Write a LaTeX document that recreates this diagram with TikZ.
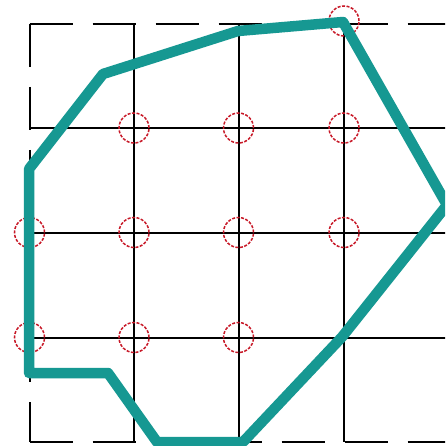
\documentclass[tikz,border=0pt]{standalone}
\definecolor{hullteal}{RGB}{22,152,146}
\definecolor{ringred}{RGB}{200,25,40}
\begin{document}
\begin{tikzpicture}[x=1pt,y=-1pt,
  gridline/.style={black,line width=2pt},
  borderline/.style={gridline,dash pattern=on 43pt off 20pt},
  ring/.style={draw=ringred,line width=1.5pt,dash pattern=on 3pt off 1.5pt},
  hull/.style={draw=hullteal,line width=10.5pt,line join=round}]
\useasboundingbox (0,0) rectangle (445,446);
\fill[white] (0,0) rectangle (445,446);
\clip (0,0) rectangle (445,446);
% grid coordinates
\coordinate (tl) at (29.5,24);
\coordinate (tr) at (448.5,24);
\coordinate (bl) at (29.5,442);
\coordinate (br) at (448.5,442);
% dashed outer border
\draw[borderline] (tl) -- (tr);
\draw[borderline] (tl) -- (bl);
\draw[borderline] (bl) -- (br);
% interior solid lines
\foreach \gx in {134,238.5,344}{
  \draw[gridline] (\gx,24) -- (\gx,442);
}
\foreach \gy in {128,232.5,337.5}{
  \draw[gridline] (29.5,\gy) -- (448.5,\gy);
}
% red rings
\foreach \cx/\cy in {344/21,134/128,238.5/128,344/128,29.5/232.5,134/232.5,238.5/232.5,344/232.5,29.5/337.5,134/337.5,238.5/337.5}{
  \draw[ring] (\cx,\cy) circle[radius=15pt];
}
% teal hull
\coordinate (pT) at (343,22);
\coordinate (pR) at (447,205);
\coordinate (pM) at (342,337);
\coordinate (pB) at (243,442);
\coordinate (pC) at (157,442);
\coordinate (pD) at (108,373);
\coordinate (pE) at (29,373);
\coordinate (pF) at (29,169);
\coordinate (pG) at (103,74);
\coordinate (pH) at (238,31);
\draw[hull] (pT) -- (pR) -- (pM) -- (pB) -- (pC) -- (pD) -- (pE) -- (pF) -- (pG) -- (pH) -- cycle;
\end{tikzpicture}
\end{document}
